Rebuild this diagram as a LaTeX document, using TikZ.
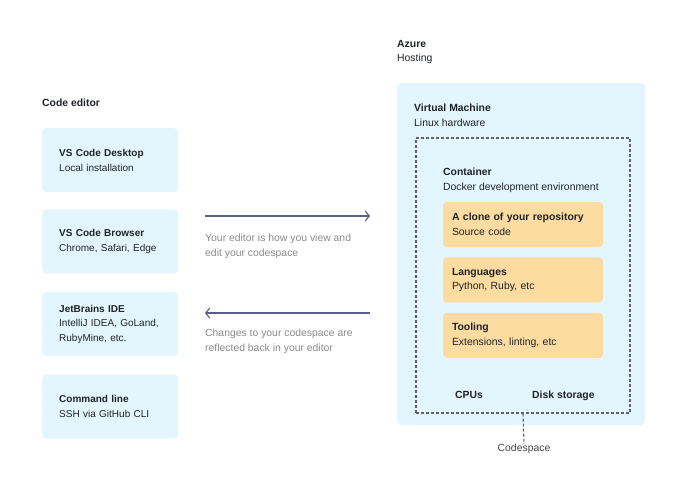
\documentclass[tikz,border=0pt]{standalone}
\usepackage{fontspec}
\setmainfont{Liberation Sans}
\usetikzlibrary{positioning,arrows.meta}
\definecolor{paleblue}{HTML}{E3F6FD}
\definecolor{paleorange}{HTML}{FDDCA2}
\definecolor{arrowblue}{HTML}{5A5F88}
\definecolor{notegray}{HTML}{8A8A8A}
\definecolor{edgegray}{HTML}{5F6368}
\definecolor{inkdark}{HTML}{1F2328}
\newcommand{\boxfont}{\fontsize{10.4}{14.5}\selectfont}
\newcommand{\editorfont}{\fontsize{10}{14.5}\selectfont}
\tikzstyle{heading} = [draw=none, fill=none, align=left, anchor=north west, inner sep=0pt, text=inkdark, font=\boxfont]
\tikzstyle{editor} = [rectangle, fill=paleblue, rounded corners=4pt, minimum width=136pt, minimum height=64pt, text width=102pt, inner xsep=17pt, align=left, text=inkdark, font=\editorfont]
\tikzstyle{layer} = [rectangle, fill=paleorange, rounded corners=4pt, minimum width=160pt, minimum height=45pt, text width=142pt, inner xsep=9pt, align=left, text=inkdark, font=\boxfont]
\tikzstyle{note} = [draw=none, fill=none, align=left, anchor=north west, inner sep=0pt, text=notegray, font=\boxfont]
\tikzstyle{flow} = [draw=arrowblue, line width=1.1pt, -{Straight Barb[length=4pt,width=10pt,line width=1.1pt]}]
\tikzstyle{bounds} = [draw=edgegray, line width=1.1pt, dash pattern=on 3pt off 2pt]

\begin{document}
\begin{tikzpicture}[x=1pt, y=-1pt]
	\useasboundingbox (0,0) rectangle (686,490);

	% code editor column
	\node [heading] (editors) at (42,99) {\textbf{Code editor}};
	\node [editor, anchor=north west] (desktop) at (42,128) {\textbf{VS Code Desktop}\\Local installation};
	\node [editor, below=17pt of desktop] (browser) {\textbf{VS Code Browser}\\Chrome, Safari, Edge};
	\node [editor, below=18pt of browser] (jetbrains) {\textbf{JetBrains IDE}\\IntelliJ IDEA, GoLand,\\RubyMine, etc.};
	\node [editor, below=18pt of jetbrains] (cmdline) {\textbf{Command line}\\SSH via GitHub CLI};

	% hosting side
	\node [heading] (azure) at (397,40) {\textbf{Azure}\\Hosting};
	\node [rectangle, fill=paleblue, rounded corners=4pt, minimum width=248pt, minimum height=342pt] (vm) at (521,254) {};
	\node [heading] (vmlabel) at (414,104) {\textbf{Virtual Machine}\\Linux hardware};
	\node [rectangle, bounds, minimum width=214pt, minimum height=275pt] (codespace) at (523,275.5) {};
	\node [heading] (container) at (443,168) {\textbf{Container}\\Docker development environment};
	\node [layer] (repo) at (523,224.5) {\textbf{A clone of your repository}\\Source code};
	\node [layer, below=10pt of repo] (langs) {\textbf{Languages}\\Python, Ruby, etc};
	\node [layer, below=10pt of langs] (tools) {\textbf{Tooling}\\Extensions, linting, etc};
	\node [heading] (cpus) at (455,391) {\textbf{CPUs}};
	\node [heading] (disk) at (532,391) {\textbf{Disk storage}};
	\node [heading, anchor=center, text=inkdark!85] (cslabel) at (524,449) {Codespace};

	% arrows between the two sides
	\coordinate (out1) at (205,216);
	\coordinate (out2) at (370,216);
	\coordinate (back1) at (370,313);
	\coordinate (back2) at (205,313);
	\path [flow] (out1) -- (out2);
	\path [flow] (back1) -- (back2);
	\node [note] (viewnote) at (205,234) {Your editor is how you view and\\edit your codespace};
	\node [note] (backnote) at (205,329) {Changes to your codespace are\\reflected back in your editor};

	% codespace marker
	\path [bounds] (codespace.south) -- (cslabel.north);
\end{tikzpicture}
\end{document}
